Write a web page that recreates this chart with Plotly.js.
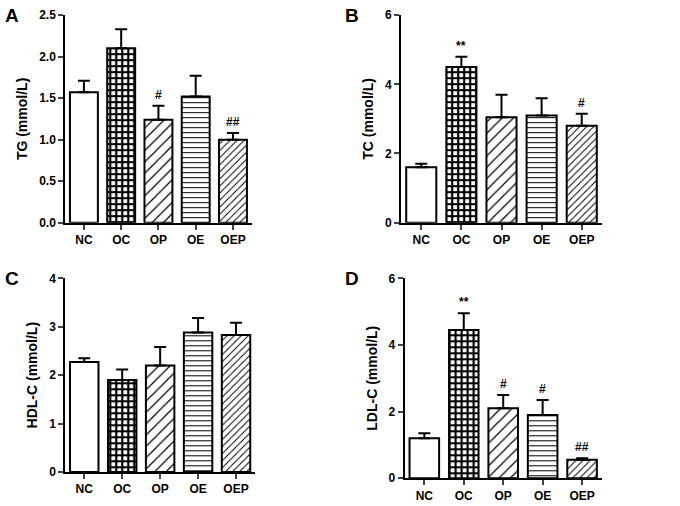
<!DOCTYPE html>
<html><head><meta charset="utf-8">
<script src="https://cdn.plot.ly/plotly-3.0.1.min.js"></script>
<style>body{margin:0;background:#fff}</style>
</head><body><div id="chart" style="width:680px;height:506px"></div>
<script>
var groups = ['NC', 'OC', 'OP', 'OE', 'OEP'];
var tgMean = [1.57, 2.10, 1.24, 1.52, 1.00];
var tgErr = [0.14, 0.23, 0.17, 0.25, 0.08];
var tgSig = ['', '', '#', '', '##'];
var tcMean = [1.6, 4.5, 3.05, 3.1, 2.8];
var tcErr = [0.1, 0.3, 0.65, 0.5, 0.35];
var tcSig = ['', '**', '', '', '#'];
var hdlMean = [2.27, 1.9, 2.2, 2.88, 2.83];
var hdlErr = [0.08, 0.22, 0.38, 0.3, 0.25];
var hdlSig = ['', '', '', '', ''];
var ldlMean = [1.2, 4.45, 2.1, 1.9, 0.55];
var ldlErr = [0.15, 0.5, 0.4, 0.45, 0.05];
var ldlSig = ['', '**', '#', '#', '##'];

var shapes = ['', '+', '/', '-', '/'];
var sizes = [8, 6, 8, 5, 5];
var solid = [0.3, 0.6, 0.15, 0.2, 0.2];

var panels = [
  {m: tgMean, e: tgErr, s: tgSig, ax: '', title: 'TG (mmol/L)', range: [0, 2.5], dtick: 0.5, fmt: '.1f', dx: [0.096, 0.37], dy: [0.56, 0.97], letter: 'A'},
  {m: tcMean, e: tcErr, s: tcSig, ax: '2', title: 'TC (mmol/L)', range: [0, 6], dtick: 2, fmt: '', dx: [0.59, 0.885], dy: [0.56, 0.97], letter: 'B'},
  {m: hdlMean, e: hdlErr, s: hdlSig, ax: '3', title: 'HDL-C (mmol/L)', range: [0, 4], dtick: 1, fmt: '', dx: [0.096, 0.375], dy: [0.067, 0.45], letter: 'C'},
  {m: ldlMean, e: ldlErr, s: ldlSig, ax: '4', title: 'LDL-C (mmol/L)', range: [0, 6], dtick: 2, fmt: '', dx: [0.595, 0.885], dy: [0.055, 0.45], letter: 'D'}
];

var font = {family: 'Liberation Sans, Arial', size: 12, color: '#000'};
var data = [];
var layout = {
  width: 680, height: 506, showlegend: false, bargap: 0.25,
  margin: {l: 0, r: 0, t: 0, b: 0}, paper_bgcolor: '#fff', plot_bgcolor: '#fff',
  font: font, annotations: []
};

panels.forEach(function (p) {
  data.push({
    type: 'bar', x: groups, y: p.m, xaxis: 'x' + p.ax, yaxis: 'y' + p.ax,
    marker: {color: '#fff', line: {color: '#000', width: 2},
      pattern: {shape: shapes, size: sizes, solidity: solid, fgcolor: '#000', bgcolor: '#fff'}},
    error_y: {type: 'data', symmetric: false, array: p.e, arrayminus: p.e.map(function () { return 0; }),
      color: '#000', thickness: 2, width: 6}
  });
  layout['xaxis' + p.ax] = {domain: p.dx, anchor: 'y' + p.ax, showline: true, linecolor: '#000', linewidth: 2,
    ticks: 'outside', ticklen: 5, tickwidth: 2, tickfont: {family: 'Liberation Sans', size: 12, weight: 'bold'}, fixedrange: true};
  layout['yaxis' + p.ax] = {domain: p.dy, anchor: 'x' + p.ax, range: p.range, dtick: p.dtick, tickformat: p.fmt,
    showline: true, linecolor: '#000', linewidth: 2, ticks: 'outside', ticklen: 5, tickwidth: 2, showgrid: false, zeroline: false,
    tickfont: {family: 'Liberation Sans', size: 12, weight: 'bold'},
    title: {text: p.title, font: {family: 'Liberation Sans', size: 14, weight: 'bold'}, standoff: 8}};
  p.s.forEach(function (t, i) {
    if (t) layout.annotations.push({x: groups[i], y: p.m[i] + p.e[i], xref: 'x' + p.ax, yref: 'y' + p.ax,
      text: t, showarrow: false, yanchor: 'bottom', yshift: 2, font: {family: 'Liberation Sans', size: 12, weight: 'bold'}});
  });
  layout.annotations.push({x: 0.005 + (p.dx[0] > 0.5 ? 0.5 : 0), y: p.dy[1] + 0.025, xref: 'paper', yref: 'paper',
    text: '<b>' + p.letter + '</b>', showarrow: false, xanchor: 'left', yanchor: 'top', font: {family: 'Liberation Sans', size: 19}});
});

Plotly.newPlot('chart', data, layout, {displayModeBar: false});
</script></body></html>
